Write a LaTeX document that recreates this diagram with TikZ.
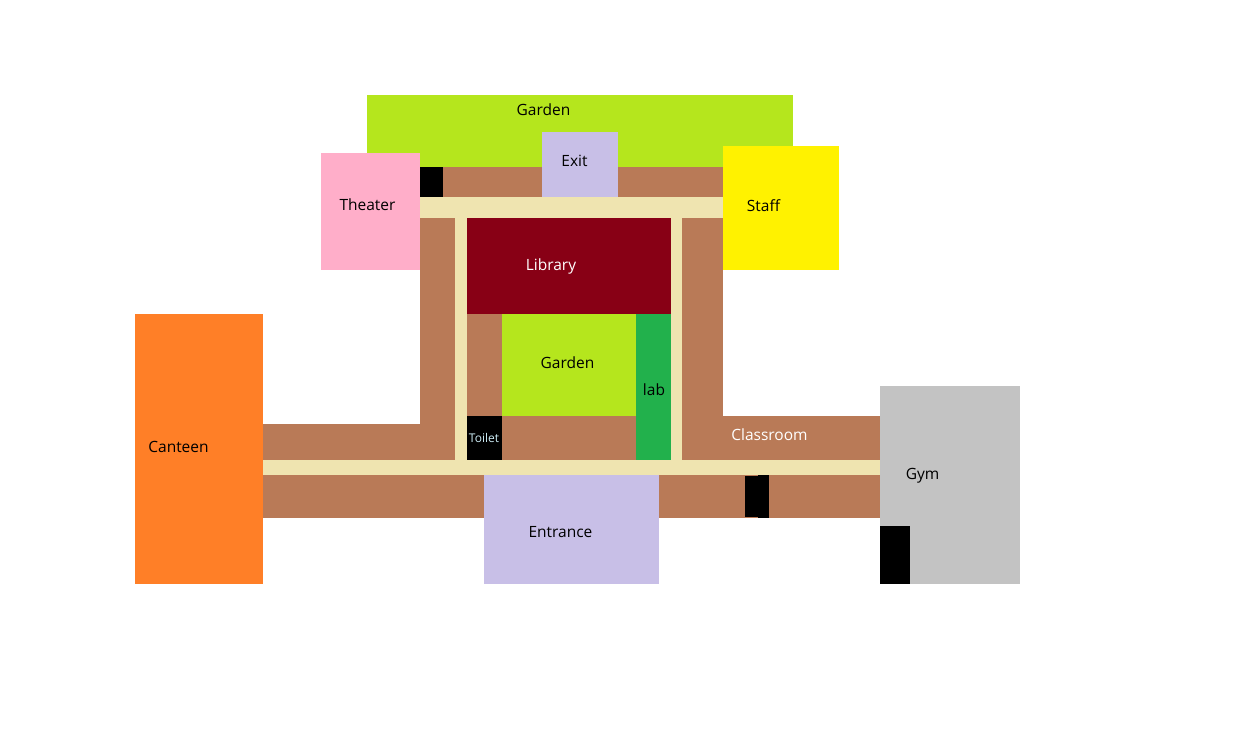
\documentclass[tikz,border=0pt]{standalone}
\usepackage{fontspec}
\setmainfont{Open Sans}
\definecolor{corridor}{HTML}{B97A57}
\definecolor{hall}{HTML}{EFE4B0}
\definecolor{lawn}{HTML}{B5E61D}
\definecolor{lilac}{HTML}{C8BFE7}
\definecolor{rose}{HTML}{FFAEC9}
\definecolor{sun}{HTML}{FFF200}
\definecolor{wine}{HTML}{880015}
\definecolor{leaf}{HTML}{22B14C}
\definecolor{tangerine}{HTML}{FF7F27}
\definecolor{stone}{HTML}{C3C3C3}
\definecolor{sky}{HTML}{99D9EA}
\tikzset{
  lbl/.style={font=\fontsize{15.5}{17}\selectfont,inner sep=0pt,text=black},
  lblw/.style={lbl,text=white}
}
\begin{document}
\begin{tikzpicture}[x=1pt,y=-1pt]
      \useasboundingbox (0,0) rectangle (1244,743);
      % gardens and corridors
      \fill [lawn] (367,95) rectangle (793,167);
      \fill [corridor] (420,167) rectangle (723,197);
      \fill [corridor] (420,218) rectangle (455,460);
      \fill [corridor] (263,424) rectangle (455,460);
      \fill [corridor] (682,218) rectangle (723,460);
      \fill [corridor] (682,416) rectangle (880,460);
      \fill [corridor] (467,314) rectangle (502,416);
      \fill [corridor] (502,416) rectangle (636,460);
      \fill [corridor] (263,475) rectangle (880,518);
      % halls
      \fill [hall] (420,197) rectangle (723,218);
      \fill [hall] (455,218) rectangle (467,460);
      \fill [hall] (671,218) rectangle (682,460);
      \fill [hall] (263,460) rectangle (880,475);
      % rooms
      \fill [lilac] (542,132) rectangle (618,197);
      \fill [rose] (321,153) rectangle (420,270);
      \fill [sun] (723,146) rectangle (839,270);
      \fill [wine] (467,218) rectangle (671,314);
      \fill [lawn] (502,314) rectangle (636,416);
      \fill [leaf] (636,314) rectangle (671,460);
      \fill [lilac] (484,475) rectangle (659,584);
      \fill [tangerine] (135,314) rectangle (263,584);
      \fill [stone] (880,386) rectangle (1020,584);
      % black blocks
      \fill [black] (420,167) rectangle (443,197);
      \fill [black] (467,416) rectangle (502,460);
      \fill [black] (745,476) rectangle (758,517);
      \fill [black] (758,475) rectangle (769,518);
      \fill [black] (880,526) rectangle (910,584);
      % labels
      \node [lbl] (gardentop) at (543.5,110) {Garden};
      \node [lbl] (exit) at (574.5,161) {Exit};
      \node [lbl] (theater) at (367.5,205) {Theater};
      \node [lbl] (staff) at (763.5,206) {Staff};
      \node [lblw] (library) at (551,266) {Library};
      \node [lbl] (gardenin) at (567.5,363) {Garden};
      \node [lbl] (lab) at (654,390) {lab};
      \node [lbl] (canteen) at (178.5,447) {Canteen};
      \node [lbl,text=sky!50!white,font=\fontsize{12}{13}\selectfont] (toilet) at (484,437.5) {Toilet};
      \node [lblw] (classroom) at (769.5,435) {Classroom};
      \node [lbl] (gym) at (922.5,476) {Gym};
      \node [lbl] (entrance) at (560.5,532) {Entrance};
\end{tikzpicture}
\end{document}
